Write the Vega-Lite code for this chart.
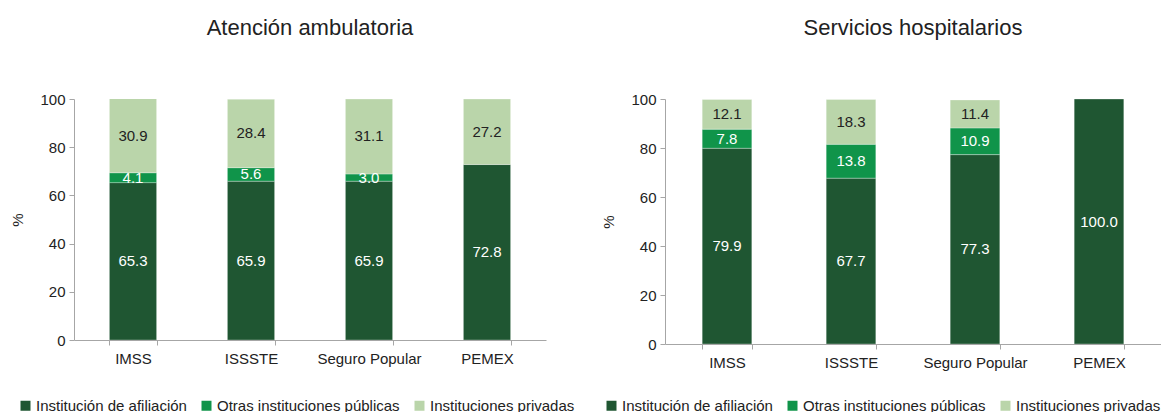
{
  "$schema": "https://vega.github.io/schema/vega-lite/v6.json",
  "background": "white",
  "padding": {"left": 10, "top": 17, "right": 0, "bottom": 0},
  "datasets": {
    "amb": [
      {"inst": "IMSS", "serie": "Institución de afiliación", "ord": 1, "value": 65.3},
      {"inst": "IMSS", "serie": "Otras instituciones públicas", "ord": 2, "value": 4.1},
      {"inst": "IMSS", "serie": "Instituciones privadas", "ord": 3, "value": 30.9},
      {"inst": "ISSSTE", "serie": "Institución de afiliación", "ord": 1, "value": 65.9},
      {"inst": "ISSSTE", "serie": "Otras instituciones públicas", "ord": 2, "value": 5.6},
      {"inst": "ISSSTE", "serie": "Instituciones privadas", "ord": 3, "value": 28.4},
      {"inst": "Seguro Popular", "serie": "Institución de afiliación", "ord": 1, "value": 65.9},
      {"inst": "Seguro Popular", "serie": "Otras instituciones públicas", "ord": 2, "value": 3.0},
      {"inst": "Seguro Popular", "serie": "Instituciones privadas", "ord": 3, "value": 31.1},
      {"inst": "PEMEX", "serie": "Institución de afiliación", "ord": 1, "value": 72.8},
      {"inst": "PEMEX", "serie": "Instituciones privadas", "ord": 3, "value": 27.2}
    ],
    "hosp": [
      {"inst": "IMSS", "serie": "Institución de afiliación", "ord": 1, "value": 79.9},
      {"inst": "IMSS", "serie": "Otras instituciones públicas", "ord": 2, "value": 7.8},
      {"inst": "IMSS", "serie": "Instituciones privadas", "ord": 3, "value": 12.1},
      {"inst": "ISSSTE", "serie": "Institución de afiliación", "ord": 1, "value": 67.7},
      {"inst": "ISSSTE", "serie": "Otras instituciones públicas", "ord": 2, "value": 13.8},
      {"inst": "ISSSTE", "serie": "Instituciones privadas", "ord": 3, "value": 18.3},
      {"inst": "Seguro Popular", "serie": "Institución de afiliación", "ord": 1, "value": 77.3},
      {"inst": "Seguro Popular", "serie": "Otras instituciones públicas", "ord": 2, "value": 10.9},
      {"inst": "Seguro Popular", "serie": "Instituciones privadas", "ord": 3, "value": 11.4},
      {"inst": "PEMEX", "serie": "Institución de afiliación", "ord": 1, "value": 100.0}
    ]
  },
  "hconcat": [
    {
      "data": {"name": "amb"},
      "width": 472,
      "height": 241,
      "title": {"text": "Atención ambulatoria"},
      "encoding": {
        "x": {"field": "inst", "type": "nominal", "sort": ["IMSS", "ISSSTE", "Seguro Popular", "PEMEX"], "scale": {"paddingInner": 0.6, "paddingOuter": 0.3}, "axis": {"title": null, "labelAngle": 0, "tickBand": "extent", "labelPadding": 6}},
        "y": {"field": "value", "type": "quantitative", "stack": "zero", "scale": {"domain": [0, 100]}, "axis": {"title": "%", "values": [0, 20, 40, 60, 80, 100]}},
        "order": {"field": "ord", "type": "quantitative"}
      },
      "layer": [
        {
          "mark": {"type": "bar", "clip": true, "stroke": "#ffffff", "strokeWidth": 0.5, "strokeOpacity": 0.6},
          "encoding": {
            "color": {"field": "serie", "type": "nominal", "scale": {"domain": ["Institución de afiliación", "Otras instituciones públicas", "Instituciones privadas"], "range": ["#1f5632", "#10944a", "#bad5aa"]}, "legend": {"orient": "none", "legendX": -56, "legendY": 299, "direction": "horizontal", "title": null}}
          }
        },
        {
          "mark": {"type": "text", "fontSize": 15, "font": "Liberation Sans"},
          "encoding": {
            "y": {"field": "value", "type": "quantitative", "stack": "zero", "bandPosition": 0.5},
            "text": {"field": "value", "type": "quantitative", "format": ".1f"},
            "color": {"condition": {"test": "datum.serie === 'Instituciones privadas'", "value": "#222222"}, "value": "#ffffff"}
          }
        }
      ]
    },
    {
      "data": {"name": "hosp"},
      "width": 496,
      "height": 245,
      "title": {"text": "Servicios hospitalarios"},
      "encoding": {
        "x": {"field": "inst", "type": "nominal", "sort": ["IMSS", "ISSSTE", "Seguro Popular", "PEMEX"], "scale": {"paddingInner": 0.6, "paddingOuter": 0.3}, "axis": {"title": null, "labelAngle": 0, "tickBand": "extent", "labelPadding": 6}},
        "y": {"field": "value", "type": "quantitative", "stack": "zero", "scale": {"domain": [0, 100]}, "axis": {"title": "%", "values": [0, 20, 40, 60, 80, 100]}},
        "order": {"field": "ord", "type": "quantitative"}
      },
      "layer": [
        {
          "mark": {"type": "bar", "clip": true, "stroke": "#ffffff", "strokeWidth": 0.5, "strokeOpacity": 0.6},
          "encoding": {
            "color": {"field": "serie", "type": "nominal", "scale": {"domain": ["Institución de afiliación", "Otras instituciones públicas", "Instituciones privadas"], "range": ["#1f5632", "#10944a", "#bad5aa"]}, "legend": {"orient": "none", "legendX": -61, "legendY": 299, "direction": "horizontal", "title": null}}
          }
        },
        {
          "mark": {"type": "text", "fontSize": 15, "font": "Liberation Sans"},
          "encoding": {
            "y": {"field": "value", "type": "quantitative", "stack": "zero", "bandPosition": 0.5},
            "text": {"field": "value", "type": "quantitative", "format": ".1f"},
            "color": {"condition": {"test": "datum.serie === 'Instituciones privadas'", "value": "#222222"}, "value": "#ffffff"}
          }
        }
      ]
    }
  ],
  "spacing": 119,
  "bounds": "flush",
  "resolve": {"scale": {"color": "independent", "y": "independent", "x": "independent"}, "legend": {"color": "independent"}},
  "config": {
    "view": {"stroke": null},
    "font": "Liberation Sans",
    "title": {"fontSize": 22, "fontWeight": "normal", "color": "#222222", "font": "Liberation Sans", "offset": 52, "anchor": "middle"},
    "axis": {
      "grid": false,
      "domainColor": "#a6a6a6",
      "tickColor": "#a6a6a6",
      "tickSize": 5,
      "labelFontSize": 15,
      "labelColor": "#222222",
      "labelFont": "Liberation Sans",
      "titleFont": "Liberation Sans",
      "titleFontSize": 15,
      "titleFontWeight": "normal",
      "titleColor": "#222222",
      "titlePadding": 14
    },
    "axisY": {"labelPadding": 4},
    "legend": {
      "symbolType": "square",
      "symbolSize": 100,
      "symbolStrokeWidth": 0,
      "labelFontSize": 15,
      "labelFont": "Liberation Sans",
      "labelColor": "#222222",
      "labelOffset": 3,
      "columnPadding": 12,
      "labelLimit": 400
    }
  }
}
